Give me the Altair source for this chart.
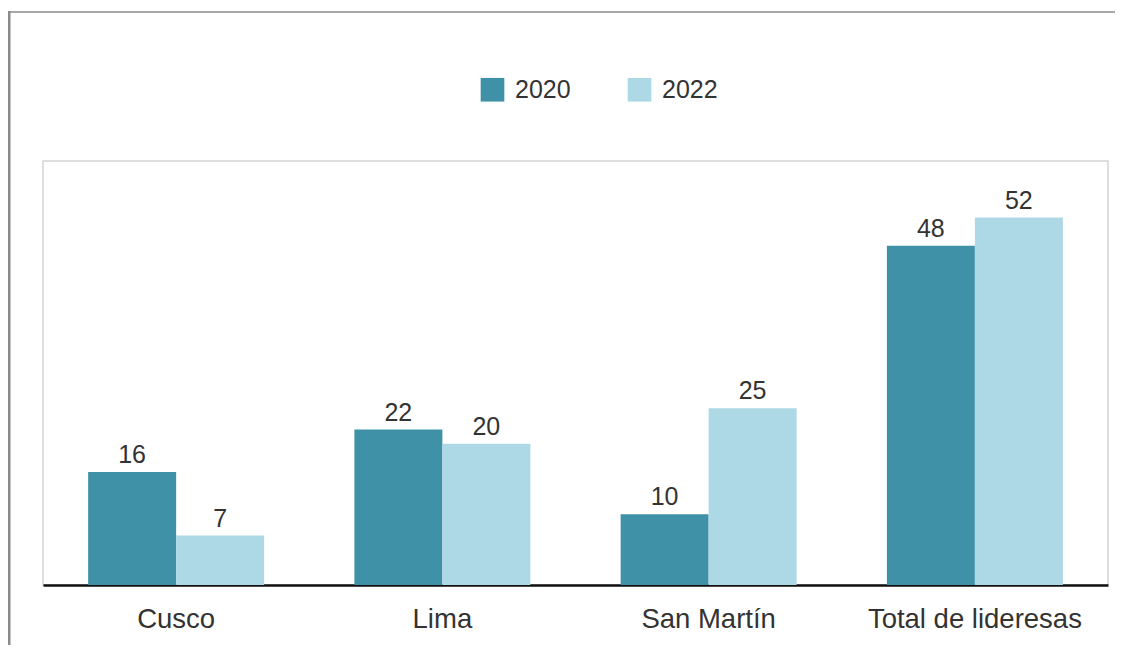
import altair as alt
import pandas as pd

categories = ["Cusco", "Lima", "San Martín", "Total de lideresas"]
years = ["2020", "2022"]
v2020 = [16, 22, 10, 48]
v2022 = [7, 20, 25, 52]

rows = []
for c, a, b in zip(categories, v2020, v2022):
    rows.append({"cat": c, "year": "2020", "value": a})
    rows.append({"cat": c, "year": "2022", "value": b})
df = pd.DataFrame(rows)

FONT = "Liberation Sans"
TXT = "#333333"

x_enc = alt.X("cat:N", sort=categories, title=None,
              scale=alt.Scale(paddingInner=0.339, paddingOuter=0.1695),
              axis=alt.Axis(labelAngle=0, labelFontSize=27.5, labelFont=FONT,
                            labelColor=TXT, ticks=False, labelPadding=20,
                            labelLimit=0,
                            domainColor="#111111", domainWidth=2.5))
y_enc = alt.Y("value:Q", scale=alt.Scale(domain=[0, 60]), axis=None)

bars = alt.Chart(df).mark_bar().encode(
    x=x_enc,
    xOffset=alt.XOffset("year:N", sort=years),
    y=y_enc,
    color=alt.Color("year:N", sort=years,
                    scale=alt.Scale(domain=years, range=["#3f91a8", "#acd9e5"]),
                    legend=alt.Legend(title=None, orient="none", direction="horizontal",
                                      legendX=437, legendY=-84, padding=0,
                                      symbolType="square", symbolSize=560,
                                      symbolStrokeWidth=0, labelFontSize=25,
                                      labelFont=FONT, labelColor=TXT,
                                      labelOffset=10, columnPadding=56)),
)

labels = alt.Chart(df).mark_text(baseline="alphabetic", dy=-9, fontSize=25,
                                 font=FONT, color=TXT).encode(
    x=alt.X("cat:N", sort=categories),
    xOffset=alt.XOffset("year:N", sort=years),
    y=alt.Y("value:Q"),
    text=alt.Text("value:Q"),
)

border_left = alt.Chart(pd.DataFrame({"k": [0]})).mark_rule(color="#8a8a8a", strokeWidth=3).encode(
    x=alt.value(-34), y=alt.value(-150), y2=alt.value(500))
border_top = alt.Chart(pd.DataFrame({"k": [0]})).mark_rule(color="#8a8a8a", strokeWidth=1.5).encode(
    x=alt.value(-35), x2=alt.value(1080), y=alt.value(-149))

chart = alt.layer(bars, labels, border_left, border_top).properties(
    width=1065, height=424,
    autosize=alt.AutoSizeParams(type="none"),
    padding={"left": 35, "top": 153, "right": 7, "bottom": 60},
    background="white",
).configure_view(stroke="#d4d4d4", strokeWidth=1.5)

chart.save("out.html", embed_options={"renderer": "svg", "actions": False})
